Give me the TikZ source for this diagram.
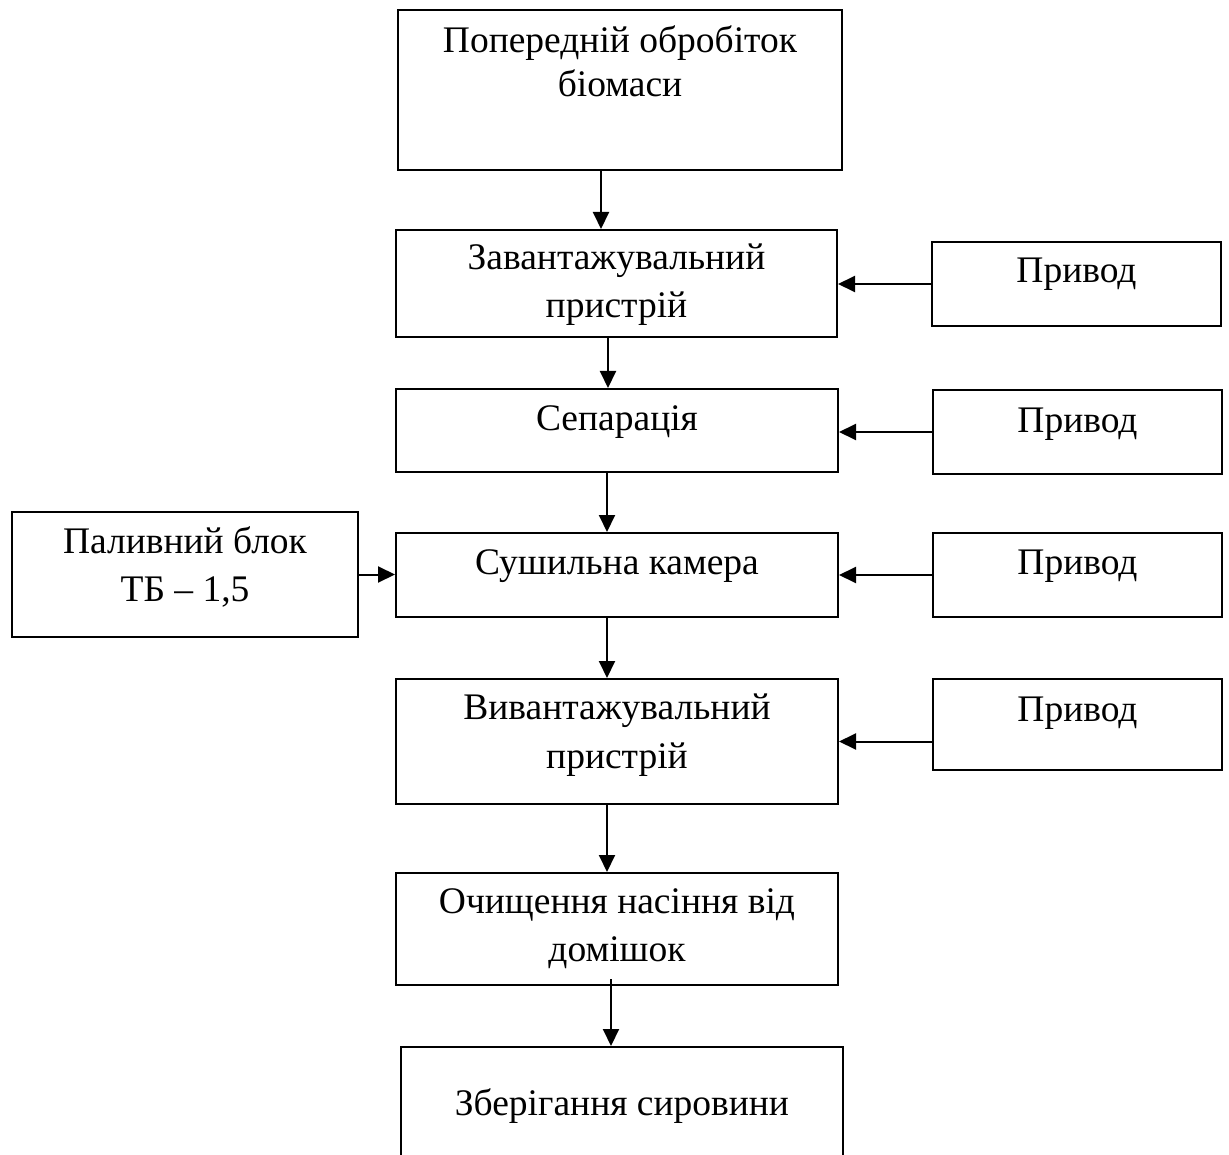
\documentclass[tikz,border=0pt]{standalone}
\usepackage{fontspec}
\setmainfont{Liberation Serif}
\usetikzlibrary{fit,arrows.meta}
\begin{document}
\begin{tikzpicture}[x=1pt,y=-1pt,
  box/.style={draw, line width=2pt, inner sep=0pt},
  txt/.style={anchor=base, inner sep=0pt, font=\fontsize{37.5}{44}\selectfont},
  arr/.style={line width=2pt, -{Triangle[length=17pt,width=16pt]}}]
\useasboundingbox (0,0) rectangle (1229,1155);
\clip (0,0) rectangle (1229,1155);
% boxes
\node[box, fit={(398,10) (842,170)}] (b1) {};
\node[box, fit={(396,230) (837,337)}] (b2) {};
\node[box, fit={(396,389) (838,472)}] (b3) {};
\node[box, fit={(396,533) (838,617)}] (b4) {};
\node[box, fit={(396,679) (838,804)}] (b5) {};
\node[box, fit={(396,873) (838,985)}] (b6) {};
\node[box, fit={(401,1047) (843,1200)}] (b7) {};
\node[box, fit={(932,242) (1221,326)}] (p1) {};
\node[box, fit={(933,390) (1222,474)}] (p2) {};
\node[box, fit={(933,533) (1222,617)}] (p3) {};
\node[box, fit={(933,679) (1222,770)}] (p4) {};
\node[box, fit={(12,512) (358,637)}] (f) {};
% texts
\node[txt] (t1a) at (620,53) {Попередній обробіток};
\node[txt] (t1b) at (620,97) {біомаси};
\node[txt] (t2a) at (616.5,270) {Завантажувальний};
\node[txt] (t2b) at (616.5,318) {пристрій};
\node[txt] (t3) at (617,431) {Сепарація};
\node[txt] (t4) at (617,574) {Сушильна камера};
\node[txt] (t5a) at (617,719) {Вивантажувальний};
\node[txt] (t5b) at (617,768) {пристрій};
\node[txt] (t6a) at (617,913) {Очищення насіння від};
\node[txt] (t6b) at (617,961) {домішок};
\node[txt] (t7) at (622,1115) {Зберігання сировини};
\node[txt] (tp1) at (1076.5,283) {Привод};
\node[txt] (tp2) at (1077.5,432) {Привод};
\node[txt] (tp3) at (1077.5,574) {Привод};
\node[txt] (tp4) at (1077.5,721) {Привод};
\node[txt] (tfa) at (185,553) {Паливний блок};
\node[txt] (tfb) at (185,601) {ТБ – 1,5};
% vertical arrows
\draw[arr] ([xshift=-19pt]b1.south) -- ([xshift=-15.5pt]b2.north);
\draw[arr] ([xshift=-8.5pt]b2.south) -- ([xshift=-9pt]b3.north);
\draw[arr] ([xshift=-10pt]b3.south) -- ([xshift=-10pt]b4.north);
\draw[arr] ([xshift=-10pt]b4.south) -- ([xshift=-10pt]b5.north);
\draw[arr] ([xshift=-10pt]b5.south) -- ([xshift=-10pt]b6.north);
\draw[arr] ([xshift=-6pt,yshift=7pt]b6.south) -- ([xshift=-11pt]b7.north);
% horizontal arrows
\draw[arr] (p1.west) -- (b2.east |- p1.west);
\draw[arr] (p2.west) -- (b3.east |- p2.west);
\draw[arr] (p3.west) -- (b4.east |- p3.west);
\draw[arr] (p4.west |- b5.east) -- (b5.east);
\draw[arr] (f.east) -- (b4.west |- f.east);
\end{tikzpicture}
\end{document}
